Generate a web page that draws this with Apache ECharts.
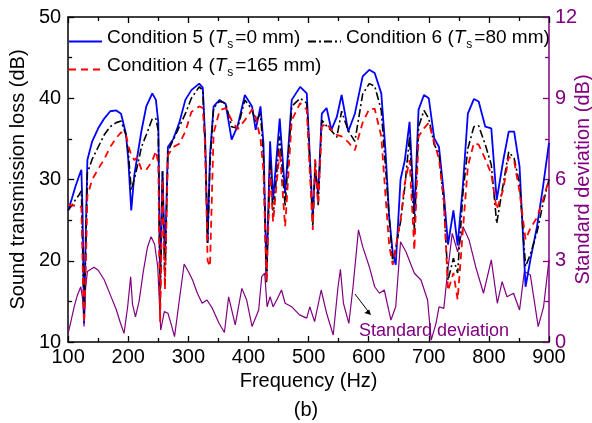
<!DOCTYPE html>
<html>
<head>
<meta charset="utf-8">
<script src="https://cdn.jsdelivr.net/npm/echarts@6/dist/echarts.min.js"></script>
<style>html,body{margin:0;padding:0;background:#fff}#c{width:592px;height:423px}</style>
</head>
<body>
<div id="c"></div>
<script>
// Frequencies (Hz) shared by the three transmission-loss curves
const freq = [
  100,106,112,118,122,124,126.5,129,132,140,
  150,160,170,180,188,196,200,205,210,215,
  222,230,240,246,250,253,257,261,266,275,
  285,295,305,318,324,328,332,336,342,352,
  362,372,382,394,406,412,420,425,430,436,
  441,452,461,472,486,497,502,507,511,516,
  522,530,538,547,555,566,577,590,601,610,
  621,628,634,640,645,653,660,668,676,683,
  692,700,709,717,725,732,741,748,757,
  765,775,783,794,804,813,824,833,842,851,
  861,869,880,890,900
];
// Condition 5 (Ts = 0 mm)
const cond5 = [
  26.2,27.6,29.1,30.4,31.2,26,12.3,22,32.4,34.7,
  36.3,37.5,38.4,38.5,38.1,35.7,32.5,26.2,30.5,32.8,
  36,39,40.6,39.8,37,17,31,20,34,35,
  37,39.8,41,41.8,41.3,35,22.2,33,39,39.8,
  39.3,34.9,36.6,40.4,39,36.1,39,34.4,18,34.7,
  27.5,37.5,28.3,39.8,41.4,40.6,33,25.4,31.2,28.3,
  38.1,38.8,36.1,37.7,40.4,35.9,38.1,42.7,43.5,43.1,
  40.6,33.5,25.5,21,19.5,30,32.3,37.1,25.8,38.6,
  40.4,40,35.1,34,28.3,22,26.2,21.9,29.5,
  38.1,39.9,39.6,36.5,36.3,27.5,32.4,35.9,35.9,31.6,
  16.8,20.1,24.2,29.1,34.5
];
// Condition 6 (Ts = 80 mm)
const cond6 = [
  26.2,26.8,27.5,28.1,28.6,22,13,21,30.8,32.5,
  34,35.5,36.5,37,37.2,35.5,33.5,28.7,30,31.6,
  34,35.5,37.5,37.5,36,14,31,17,33.5,34.9,
  36.5,38.1,40,41.4,41,34,22.2,32,38.8,39.6,
  39.4,36.5,36.3,39.8,38.6,37.1,38.1,33,17.3,32.4,
  25.4,35.3,26.7,39,40,39.4,32.4,24.2,32.4,26.7,
  37.3,36.6,36,35.2,38.4,36,34.7,40.5,41.8,41.5,
  38.5,31.5,25.5,19.8,21.5,24.8,29,35.3,23.8,36.5,
  38.5,37.5,34.3,33.2,27.1,17.6,20.3,18.5,28.5,
  33.8,36.5,36.6,34.3,31.8,24.6,29.5,33.4,32.6,29.5,
  19.3,20.8,23.5,27,30
];
// Condition 4 (Ts = 165 mm)
const cond4 = [
  26.9,26.8,26.8,26.7,26.6,20,12.3,18,28,30,
  31.3,32.5,34,35.1,35.8,35.6,34.2,33,32.4,32.7,
  31.2,31.2,32.3,33.5,32,12.5,30,16.5,33,34,
  34.4,35.9,38.3,39,38.8,34,20,19.3,35.7,38.5,
  38.8,37.3,36.2,37.3,38.6,37.7,35,31,17.4,31.2,
  24.8,33.6,24.2,37.3,39.4,38.6,31,23.8,32.5,27,
  36.5,36.9,36.1,35.5,35.3,34.6,33.6,37,38.7,38.7,
  35.3,28,22,19.5,21.7,25,29.5,32.4,21.3,35.3,
  36.3,37,34.6,32.5,27.5,16.3,18.5,15.2,24,
  31.6,34.5,34.3,32.5,30.7,26.3,28.8,32.8,32.3,28.5,
  22.6,24,25.3,27.5,30
];
// Standard deviation (its own frequency sampling)
const freqStd = [
  100,105,110,115,121,124,126.5,129,132,143,
  150,160,170,180,187,193,199,204,207,212,
  218,225,232,238,244,249,254,260,266,271,
  277,285,293,300,307,315,323,331,340,351,
  360,367,378,389,397,406,417,422,427,431,
  436,441,447,455,461,472,485,497,502,510,
  521,530,541,549,553,558,567,574,583,590,
  601,610,618,626,629,637,645,653,662,676,
  687,698,704,712,717,725,731,739,748,757,
  767,778,791,804,814,822,830,841,851,859,
  869,882,891,900
];
const stdDev = [
  0.32,0.8,1.3,1.7,2.04,1.6,0.57,2.0,2.6,2.76,
  2.65,2.3,1.75,1.2,0.7,0.32,1.3,2.41,1.4,0.93,
  1.5,2.6,3.5,3.89,3.6,2.78,0.44,1.12,1.06,0.69,
  0.2,1.55,2.88,2.6,2.29,1.8,1.43,1.55,1.24,0.69,
  0.35,1.67,0.63,1.98,1.55,0.57,1.18,2.41,2.54,1.3,
  1.67,1.3,1.55,1.92,1.43,1.3,1.0,0.88,1.3,0.75,
  1.92,1.06,0.26,2.04,2.68,1.43,0.69,2.04,4.14,3.52,
  2.78,2.04,1.8,1.92,1.86,0.81,1.3,3.7,3.33,2.54,
  2.29,1.55,0.07,0.69,1.3,1.24,2.54,4.01,3.33,4.26,
  3.77,2.78,1.8,3.03,1.43,2.23,1.67,1.8,1.18,2.6,
  2.47,0.57,1.3,3.03
];
const xTicks = {min: 100, max: 900, interval: 100};
const yLeft = {min: 10, max: 50, interval: 10};
const yRight = {min: 0, max: 12, interval: 3};
const names = ['Condition 5 (Ts=0 mm)', 'Condition 6 (Ts=80 mm)', 'Condition 4 (Ts=165 mm)'];
const tsValues = ['0', '80', '165'];
const condNums = ['5', '6', '4'];

const FONT = "'Liberation Sans', Arial, sans-serif";
const PURPLE = '#800080';
const pair = (xs, ys) => xs.map((x, i) => [x, ys[i]]);

const chart = echarts.init(document.getElementById('c'), null, {renderer: 'canvas'});

const richStyle = {
  a: {fontSize: 19, fontFamily: FONT, color: '#000', lineHeight: 19, padding: [0, 0, 4, 0], verticalAlign: 'bottom'},
  i: {fontSize: 19, fontFamily: FONT, color: '#000', fontStyle: 'italic', lineHeight: 19, padding: [0, 0, 4, 0], verticalAlign: 'bottom'},
  s: {fontSize: 12, fontFamily: FONT, color: '#000', lineHeight: 12, padding: [0, 2, 0, 1], verticalAlign: 'bottom'}
};
const legendFmt = name => {
  const k = names.indexOf(name);
  return '{a|Condition ' + condNums[k] + ' (}{i|T}{s|s}{a|=' + tsValues[k] + ' mm)}';
};
const mkLegend = (name, left, top) => ({
  data: [name], left: left, top: top, padding: 0, itemWidth: 33, itemHeight: 14, itemGap: 0,
  formatter: legendFmt, textStyle: {rich: richStyle}, selectedMode: false,
  itemStyle: {opacity: 0, borderWidth: 0}
});

const axisCommon = {
  axisLine: {show: true, onZero: false, lineStyle: {color: '#000', width: 1.5}},
  axisTick: {show: true, inside: true, length: 6, lineStyle: {color: '#000', width: 1.3}},
  minorTick: {show: true, splitNumber: 2, length: 4, lineStyle: {color: '#000', width: 1.3}},
  splitLine: {show: false}
};

const option = {
  animation: false,
  backgroundColor: '#fff',
  grid: {left: 65, right: 43, top: 17, bottom: 81, containLabel: false},
  legend: [
    mkLegend(names[0], 68, 28),
    mkLegend(names[1], 307, 28),
    mkLegend(names[2], 68, 56)
  ],
  xAxis: [
    Object.assign({}, axisCommon, {
      type: 'value', position: 'bottom', min: xTicks.min, max: xTicks.max, interval: xTicks.interval,
      axisLabel: {fontSize: 20, fontFamily: FONT, color: '#000', margin: 5},
      name: 'Frequency (Hz)', nameLocation: 'middle', nameGap: 29,
      nameTextStyle: {fontSize: 20, fontFamily: FONT, color: '#000'}
    }),
    Object.assign({}, axisCommon, {
      type: 'value', position: 'top', min: xTicks.min, max: xTicks.max, interval: xTicks.interval,
      axisLabel: {show: false}
    })
  ],
  yAxis: [
    Object.assign({}, axisCommon, {
      type: 'value', position: 'left', min: yLeft.min, max: yLeft.max, interval: yLeft.interval,
      axisLabel: {fontSize: 20, fontFamily: FONT, color: '#000', margin: 7},
      name: 'Sound transmission loss (dB)', nameLocation: 'middle', nameGap: 35, nameRotate: 90,
      nameTextStyle: {fontSize: 20, fontFamily: FONT, color: '#000'}
    }),
    Object.assign({}, axisCommon, {
      type: 'value', position: 'right', min: yRight.min, max: yRight.max, interval: yRight.interval,
      axisLine: {show: true, onZero: false, lineStyle: {color: PURPLE, width: 1.5}},
      axisTick: {show: true, inside: true, length: 6, lineStyle: {color: PURPLE, width: 1.3}},
      minorTick: {show: true, splitNumber: 2, length: 4, lineStyle: {color: PURPLE, width: 1.3}},
      axisLabel: {fontSize: 20, fontFamily: FONT, color: PURPLE, margin: 6}
    })
  ],
  series: [
    {name: names[0], type: 'line', data: pair(freq, cond5), symbol: 'none', z: 4,
     lineStyle: {color: '#0000ff', width: 1.8, type: 'solid'}, itemStyle: {color: '#0000ff'}},
    {name: names[1], type: 'line', data: pair(freq, cond6), symbol: 'none', z: 5,
     lineStyle: {color: '#000000', width: 1.6, type: [8, 3, 2, 3]}, itemStyle: {color: '#000'}},
    {name: names[2], type: 'line', data: pair(freq, cond4), symbol: 'none', z: 6,
     lineStyle: {color: '#ff0000', width: 1.8, type: [7, 5]}, itemStyle: {color: '#ff0000'}},
    {name: 'Standard deviation', type: 'line', yAxisIndex: 1, data: pair(freqStd, stdDev), symbol: 'none', z: 3,
     lineStyle: {color: PURPLE, width: 1.2}, itemStyle: {color: PURPLE}}
  ],
  graphic: [
    {type: 'text', x: 583, y: 179.5, rotation: Math.PI / 2,
     style: {text: 'Standard deviation (dB)', font: "20px 'Liberation Sans', Arial, sans-serif", fill: PURPLE, align: 'center', verticalAlign: 'middle'}},
    {type: 'line', shape: {x1: 355, y1: 294, x2: 369, y2: 312.5}, style: {stroke: '#000', lineWidth: 1}},
    {type: 'polygon', shape: {points: [[371, 315], [369.2, 309.4], [364.4, 313]]}, style: {fill: '#000'}},
    {type: 'text', x: 359, y: 331, style: {text: 'Standard deviation', font: "18px 'Liberation Sans', Arial, sans-serif", fill: PURPLE, verticalAlign: 'middle'}},
    {type: 'text', x: 306, y: 410, style: {text: '(b)', font: "20px 'Liberation Sans', Arial, sans-serif", fill: '#000', align: 'center', verticalAlign: 'middle'}}
  ]
};
chart.setOption(option);
</script>
</body>
</html>
